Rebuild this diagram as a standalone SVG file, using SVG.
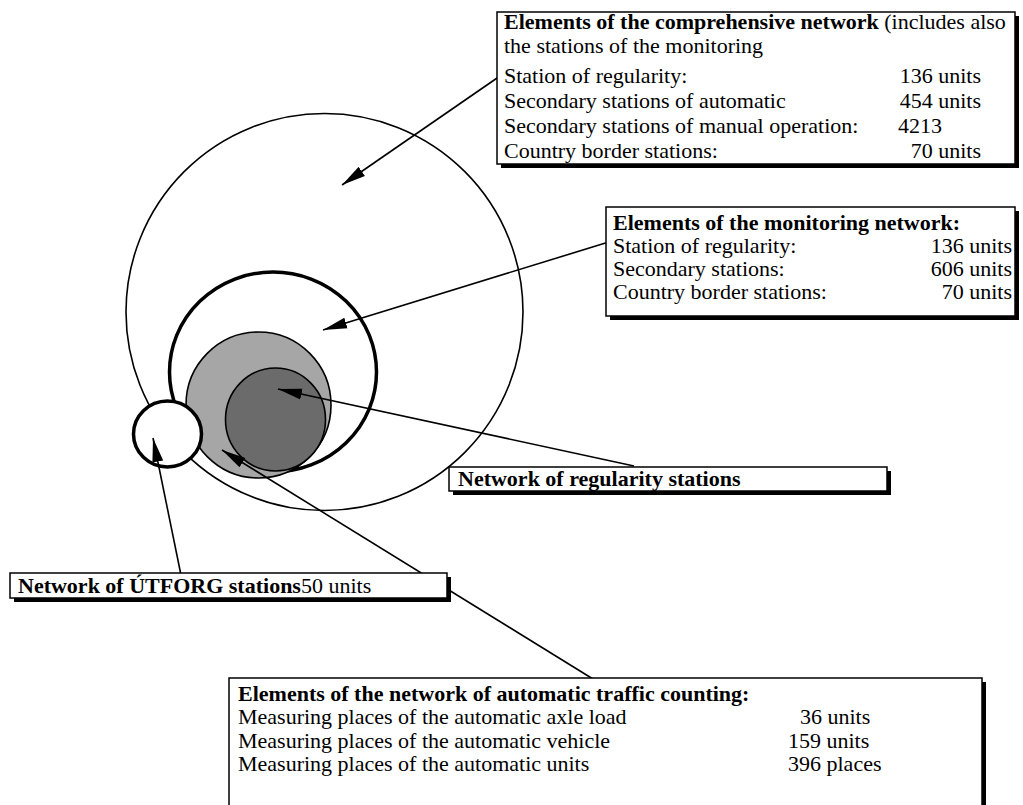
<svg xmlns="http://www.w3.org/2000/svg" width="1023" height="805" viewBox="0 0 1023 805">
<style>
text{font-family:"Liberation Serif","Times New Roman",serif;font-size:22px;fill:#000}
.b{font-weight:bold}
.box{fill:#fff;stroke:#000;stroke-width:1.5}
.sh{fill:#000}
.con{stroke:#000;stroke-width:1.6;fill:none;marker-end:url(#ah)}
</style>
<defs>
<marker id="ah" viewBox="0 0 24 12" refX="24" refY="6" markerWidth="24" markerHeight="12" markerUnits="userSpaceOnUse" orient="auto">
<path d="M0,0.5 L24,6 L0,11.5 Z" fill="#000"/>
</marker>
</defs>
<rect width="1023" height="805" fill="#fff"/>
<g id="circles">
<circle id="comprehensive-network" cx="324.5" cy="312" r="198.5" fill="none" stroke="#000" stroke-width="1.6"/>
<ellipse id="monitoring-network" cx="273" cy="372" rx="103.5" ry="100" fill="none" stroke="#000" stroke-width="3.5"/>
<ellipse id="automatic-counting" cx="258.5" cy="405" rx="72.5" ry="73" fill="#a6a6a6" stroke="#000" stroke-width="1.6"/>
<ellipse id="regularity-network" cx="275.5" cy="419.5" rx="50" ry="51.5" fill="#6b6b6b" stroke="#000" stroke-width="1.6"/>
<ellipse id="utforg-network" cx="167.5" cy="434" rx="34" ry="33" fill="#fff" stroke="#000" stroke-width="3.5"/>
</g>
<g id="connectors">
<line class="con" x1="500" y1="76" x2="342" y2="185"/>
<line class="con" x1="612" y1="241" x2="323" y2="330"/>
<line class="con" x1="634" y1="466" x2="278" y2="389"/>
<line class="con" x1="593" y1="679" x2="222" y2="450"/>
<line class="con" x1="182" y1="580" x2="153" y2="438"/>
</g>
<g id="box-comprehensive">
<rect class="sh" x="501" y="16" width="518" height="152"/>
<rect class="box" x="497" y="12" width="518" height="152"/>
<text x="504" y="29"><tspan class="b">Elements of the comprehensive network</tspan> (includes also</text>
<text x="504" y="53">the stations of the monitoring</text>
<text x="504" y="83">Station of regularity:</text>
<text x="981" y="83" text-anchor="end">136 units</text>
<text x="504" y="108">Secondary stations of automatic</text>
<text x="981" y="108" text-anchor="end">454 units</text>
<text x="504" y="133">Secondary stations of manual operation:</text>
<text x="898" y="133">4213</text>
<text x="504" y="158">Country border stations:</text>
<text x="981" y="158" text-anchor="end">70 units</text>
</g>
<g id="box-monitoring">
<rect class="sh" x="610" y="211" width="409" height="109"/>
<rect class="box" x="606" y="207" width="409" height="109"/>
<text class="b" x="613" y="230">Elements of the monitoring network:</text>
<text x="613" y="253">Station of regularity:</text>
<text x="1012" y="253" text-anchor="end">136 units</text>
<text x="613" y="276">Secondary stations:</text>
<text x="1012" y="276" text-anchor="end">606 units</text>
<text x="613" y="299">Country border stations:</text>
<text x="1012" y="299" text-anchor="end">70 units</text>
</g>
<g id="box-regularity">
<rect class="sh" x="453" y="471" width="438" height="24"/>
<rect class="box" x="449" y="467" width="438" height="24"/>
<text class="b" x="458" y="486">Network of regularity stations</text>
</g>
<g id="box-utforg">
<rect class="sh" x="14" y="577" width="437" height="25"/>
<rect class="box" x="10" y="573" width="437" height="25"/>
<text x="18" y="593"><tspan class="b">Network of ÚTFORG stations</tspan>50 units</text>
</g>
<g id="box-automatic">
<rect class="sh" x="233" y="682" width="753" height="140"/>
<rect class="box" x="229" y="678" width="753" height="140"/>
<text class="b" x="238" y="701">Elements of the network of automatic traffic counting:</text>
<text x="238" y="724">Measuring places of the automatic axle load</text>
<text x="800" y="724">36 units</text>
<text x="238" y="748">Measuring places of the automatic vehicle</text>
<text x="788" y="748">159 units</text>
<text x="238" y="771">Measuring places of the automatic units</text>
<text x="788" y="771">396 places</text>
</g>
</svg>
